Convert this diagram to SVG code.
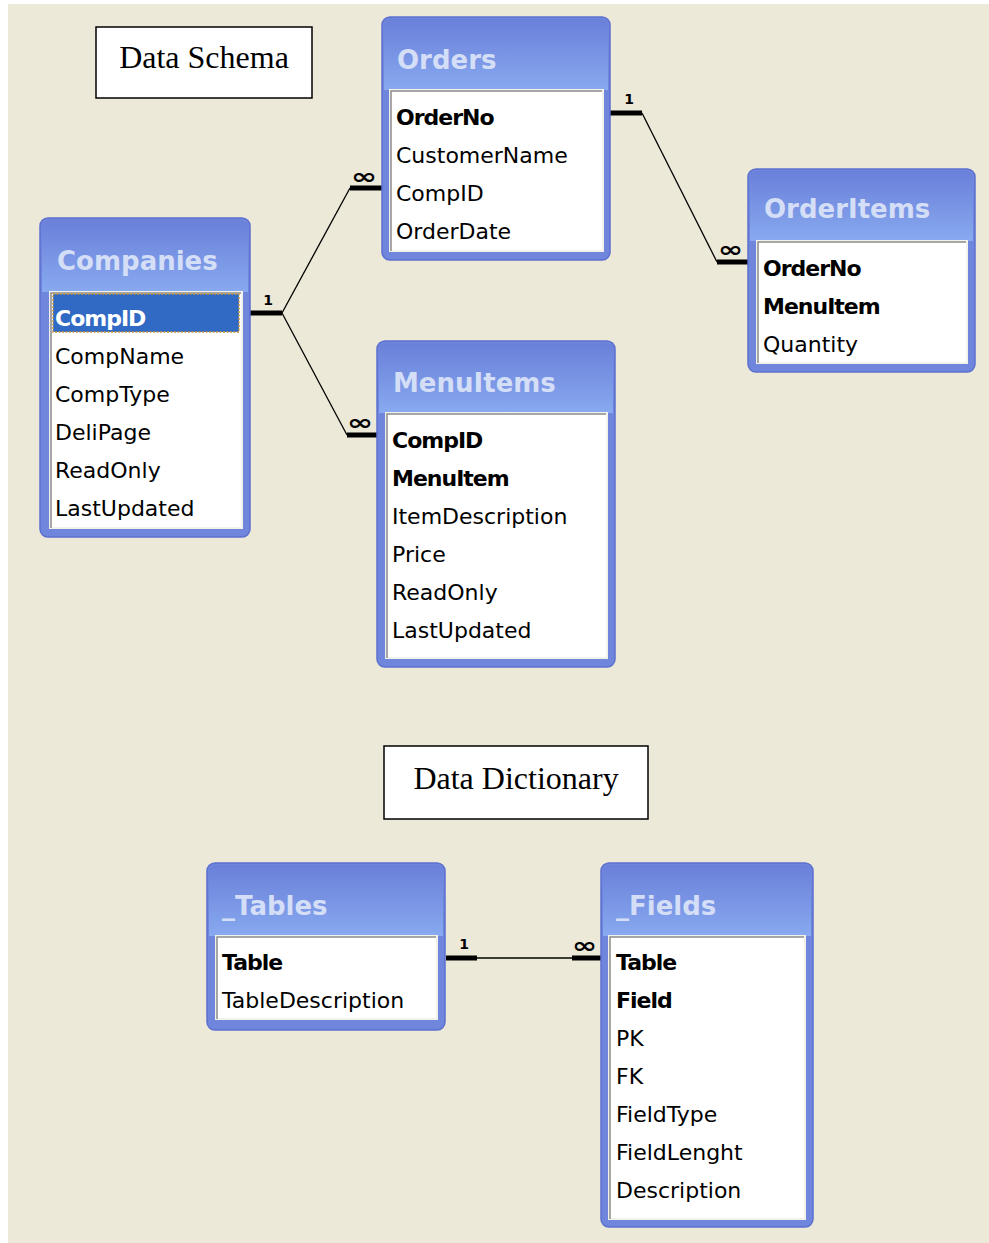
<svg xmlns="http://www.w3.org/2000/svg" width="989" height="1243" viewBox="0 0 989 1243">
<defs>
<linearGradient id="hdr" x1="0" y1="0" x2="0" y2="1">
<stop offset="0" stop-color="#6A80DA"/>
<stop offset="0.55" stop-color="#7A96E5"/>
<stop offset="1" stop-color="#88AAF0"/>
</linearGradient>
<style>
.frame{fill:#6F86DC;stroke:#5C70CF;stroke-width:1.5}
.hdr{fill:url(#hdr)}
.title{font-family:"DejaVu Sans",Verdana,sans-serif;font-weight:bold;font-size:26px;fill:#D4DEF6}
.list{fill:#FFFFFF;stroke:#F2F1EA;stroke-width:2}
.inset{fill:none;stroke:#8C8C8C;stroke-width:1.5}
.f{font-family:"DejaVu Sans",Verdana,sans-serif;font-size:22px;fill:#000}
.k{font-family:"DejaVu Sans",Verdana,sans-serif;font-size:22px;font-weight:bold;letter-spacing:-1px;fill:#000}
.thick{stroke:#000;stroke-width:5;fill:none}
.thin{stroke:#000;stroke-width:1.3;fill:none}
.one{font-family:"DejaVu Sans",Verdana,sans-serif;font-size:14px;font-weight:bold;fill:#000}
.inf{font-family:"DejaVu Sans",Verdana,sans-serif;font-size:22px;font-weight:bold;fill:#000}
.lbl{font-family:"Liberation Serif","Times New Roman",serif;font-size:32px;fill:#000}
.box{fill:#FFFFFF;stroke:#000;stroke-width:1.5}
</style>
</defs>
<rect x="8" y="4" width="981" height="1239" fill="#ECE9D8"/>

<g id="data-schema-label">
<rect class="box" x="96" y="27" width="216" height="71"/>
<text class="lbl" x="204" y="68" text-anchor="middle">Data Schema</text>
</g>
<g id="data-dictionary-label">
<rect class="box" x="384" y="746" width="264" height="73"/>
<text class="lbl" x="516" y="789" text-anchor="middle">Data Dictionary</text>
</g>

<g id="connectors">
<path class="thick" d="M250 313H282"/>
<path class="thin" d="M282 313L350 188"/>
<path class="thick" d="M350 188H382"/>
<path class="thin" d="M282 313L347 435"/>
<path class="thick" d="M347 435H378"/>
<path class="thick" d="M610 113H642"/>
<path class="thin" d="M642 113L717 262"/>
<path class="thick" d="M717 262H748"/>
<path class="thick" d="M446 958H477"/>
<path class="thin" d="M477 958H572"/>
<path class="thick" d="M572 958H602"/>
<text class="one" x="268" y="305" text-anchor="middle">1</text>
<text class="inf" x="351" y="184" textLength="26" lengthAdjust="spacingAndGlyphs">∞</text>
<text class="inf" x="347" y="430" textLength="26" lengthAdjust="spacingAndGlyphs">∞</text>
<text class="one" x="629" y="104" text-anchor="middle">1</text>
<text class="inf" x="718" y="257" textLength="25" lengthAdjust="spacingAndGlyphs">∞</text>
<text class="one" x="464" y="949" text-anchor="middle">1</text>
<text class="inf" x="572" y="953" textLength="25" lengthAdjust="spacingAndGlyphs">∞</text>
</g>

<g id="companies">
<rect class="frame" x="40" y="218" width="210" height="319" rx="8"/>
<path class="hdr" d="M42 292V228Q42 220 50 220H240Q248 220 248 228V292Z"/>
<text class="title" x="57" y="270">Companies</text>
<rect class="list" x="50" y="292" width="192" height="236"/>
<path class="inset" d="M51 528V293H241"/>
<rect x="53" y="294" width="186" height="38" fill="#316AC5" stroke="#C8963C" stroke-width="1.5" stroke-dasharray="2 1.5"/>
<text class="k" x="55" y="326" fill="#FFFFFF" style="fill:#FFFFFF">CompID</text>
<text class="f" x="55" y="364">CompName</text>
<text class="f" x="55" y="402">CompType</text>
<text class="f" x="55" y="440">DeliPage</text>
<text class="f" x="55" y="478">ReadOnly</text>
<text class="f" x="55" y="516">LastUpdated</text>
</g>

<g id="orders">
<rect class="frame" x="382" y="17" width="228" height="243" rx="8"/>
<path class="hdr" d="M384 90V27Q384 19 392 19H600Q608 19 608 27V90Z"/>
<text class="title" x="397" y="69">Orders</text>
<rect class="list" x="390" y="90" width="213" height="161"/>
<path class="inset" d="M391 251V91H602"/>
<text class="k" x="396" y="125">OrderNo</text>
<text class="f" x="396" y="163">CustomerName</text>
<text class="f" x="396" y="201">CompID</text>
<text class="f" x="396" y="239">OrderDate</text>
</g>

<g id="orderitems">
<rect class="frame" x="748" y="169" width="227" height="203" rx="8"/>
<path class="hdr" d="M750 241V179Q750 171 758 171H965Q973 171 973 179V241Z"/>
<text class="title" x="764" y="218">OrderItems</text>
<rect class="list" x="757" y="241" width="210" height="122"/>
<path class="inset" d="M758 363V242H966"/>
<text class="k" x="763" y="276">OrderNo</text>
<text class="k" x="763" y="314">MenuItem</text>
<text class="f" x="763" y="352">Quantity</text>
</g>

<g id="menuitems">
<rect class="frame" x="377" y="341" width="238" height="326" rx="8"/>
<path class="hdr" d="M379 413V351Q379 343 387 343H605Q613 343 613 351V413Z"/>
<text class="title" x="393" y="392">MenuItems</text>
<rect class="list" x="386" y="413" width="221" height="245"/>
<path class="inset" d="M387 658V414H606"/>
<text class="k" x="392" y="448">CompID</text>
<text class="k" x="392" y="486">MenuItem</text>
<text class="f" x="392" y="524">ItemDescription</text>
<text class="f" x="392" y="562">Price</text>
<text class="f" x="392" y="600">ReadOnly</text>
<text class="f" x="392" y="638">LastUpdated</text>
</g>

<g id="tables">
<rect class="frame" x="207" y="863" width="238" height="167" rx="8"/>
<path class="hdr" d="M209 936V873Q209 865 217 865H435Q443 865 443 873V936Z"/>
<text class="title" x="222" y="915">_Tables</text>
<rect class="list" x="216" y="936" width="221" height="83"/>
<path class="inset" d="M217 1019V937H436"/>
<text class="k" x="222" y="970">Table</text>
<text class="f" x="222" y="1008">TableDescription</text>
</g>

<g id="fields">
<rect class="frame" x="601" y="863" width="212" height="364" rx="8"/>
<path class="hdr" d="M603 936V873Q603 865 611 865H803Q811 865 811 873V936Z"/>
<text class="title" x="616" y="915">_Fields</text>
<rect class="list" x="609" y="936" width="196" height="283"/>
<path class="inset" d="M610 1219V937H804"/>
<text class="k" x="616" y="970">Table</text>
<text class="k" x="616" y="1008">Field</text>
<text class="f" x="616" y="1046">PK</text>
<text class="f" x="616" y="1084">FK</text>
<text class="f" x="616" y="1122">FieldType</text>
<text class="f" x="616" y="1160">FieldLenght</text>
<text class="f" x="616" y="1198">Description</text>
</g>
</svg>
